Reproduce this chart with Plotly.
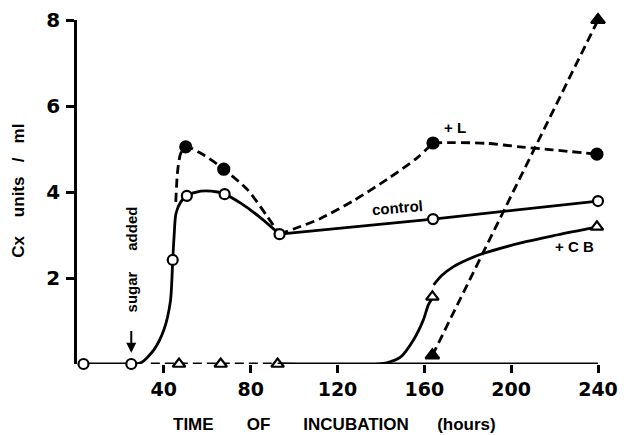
import plotly.graph_objects as go

# ---------------- data (hours, Cx units/ml) ----------------
control_x = [3, 25, 44.1, 50.6, 68, 93.3, 164, 240]
control_y = [0, 0, 2.42, 3.91, 3.95, 3.02, 3.37, 3.79]

lact_x = [50.1, 67.6, 164, 239.5]          # + L (filled circles)
lact_y = [5.05, 4.53, 5.14, 4.88]

cb_x = [47, 66.2, 92.4, 163.7, 239.5]      # + CB (open triangles)
cb_y = [0, 0, 0, 1.56, 3.19]

dx_x = [163.7, 240]                        # + Dx (filled triangles)
dx_y = [0.2, 8.0]

# hand-drawn curves
ctrl_flat_x = [3, 25]
ctrl_flat_y = [0, 0]
ctrl_rise_x = [25, 29.4, 35.4, 40, 43.0, 44.1, 44.7, 45.6, 47.8, 50.6, 57, 64.8, 68, 75.4, 84.6, 93.3]
ctrl_rise_y = [0, 0.03, 0.33, 0.79, 1.45, 2.42, 2.95, 3.5, 3.77, 3.91, 4.02, 4.0, 3.95, 3.74, 3.4, 3.02]
ctrl_late_x = [93.3, 164, 240]
ctrl_late_y = [3.02, 3.37, 3.79]

lact_c1_x = [45.5, 46.4, 47.8, 50.1, 58.4, 67.6, 78.6, 87.8, 93.3]
lact_c1_y = [3.77, 4.51, 4.9, 5.05, 4.86, 4.53, 4.05, 3.42, 3.02]
lact_c2_x = [93.3, 99.8, 112, 127.4, 143, 156.8, 164]
lact_c2_y = [3.02, 3.14, 3.38, 3.8, 4.3, 4.8, 5.14]
lact_c3_x = [164, 173.3, 189, 204, 219, 239.5]
lact_c3_y = [5.14, 5.15, 5.13, 5.05, 4.98, 4.88]

cb_dash_x = [34, 92.4]
cb_dash_y = [0, 0]
cb_c1_x = [92.4, 139.8, 149, 155, 159.5, 161.8, 163.3]
cb_c1_y = [0, 0, 0.16, 0.56, 1.02, 1.37, 1.5]
cb_c2_x = [164.3, 168, 173.3, 180, 187, 204, 221, 235, 239.5]
cb_c2_y = [1.84, 2.06, 2.26, 2.43, 2.57, 2.81, 3.0, 3.14, 3.19]

x_ticks = [40, 80, 120, 160, 200, 240]
x_tick_text = ["40", "80", "120", "160", "200", "240"]
y_ticks = [2, 4, 6, 8]
y_tick_text = ["2", "4", "6", "8"]

AXIS_LINE_START = 92.4
X_MAX = 240
Y_MAX = 8

# ---------------- figure ----------------
LW = 2.8
DASH = "9px,5px"
BLACK = "black"
fig = go.Figure()


def curve(x, y, dash="solid", shape="spline", smoothing=0.8):
    fig.add_trace(go.Scatter(x=x, y=y, mode="lines",
                             line=dict(color=BLACK, width=LW, dash=dash, shape=shape, smoothing=smoothing),
                             hoverinfo="skip", showlegend=False, cliponaxis=False))


curve(ctrl_flat_x, ctrl_flat_y, shape="linear")
curve(ctrl_rise_x, ctrl_rise_y)
curve(ctrl_late_x, ctrl_late_y, shape="linear")
curve(lact_c1_x, lact_c1_y, dash=DASH)
curve(lact_c2_x, lact_c2_y, dash=DASH)
curve(lact_c3_x, lact_c3_y, dash=DASH)
curve(cb_dash_x, cb_dash_y, dash=DASH, shape="linear")
curve(cb_c1_x, cb_c1_y)
curve(cb_c2_x, cb_c2_y, smoothing=1.0)
curve(dx_x, dx_y, dash=DASH, shape="linear")


def marks(x, y, symbol, size, fill):
    fig.add_trace(go.Scatter(x=x, y=y, mode="markers",
                             marker=dict(symbol=symbol, size=size, color=fill, line=dict(color=BLACK, width=2.2)),
                             showlegend=False, cliponaxis=False))


marks(control_x, control_y, "circle", 10, "white")
marks(lact_x, lact_y, "circle", 11, BLACK)
marks(cb_x, cb_y, "triangle-up", 11, "white")
marks(dx_x, dx_y, "triangle-up", 12, BLACK)

# x-axis baseline (visible only to the right of the CB zero segment, as in the original)
fig.add_shape(type="line", xref="x", yref="y", x0=AXIS_LINE_START, x1=X_MAX, y0=0, y1=0,
              line=dict(color=BLACK, width=LW))

FONT = "Liberation Sans"
S = "\u00a0"
ann = []
ann.append(dict(text="TIME" + S * 7 + "OF" + S * 7 + "INCUBATION" + S * 6 + "(hours)",
                xref="paper", yref="paper", x=0.495, y=-0.177, xanchor="center", yanchor="middle",
                showarrow=False, font=dict(family=FONT, size=17, color=BLACK, weight="bold")))
ann.append(dict(text="Cx" + S * 4 + "units" + S * 3 + "/" + S * 3 + "ml", textangle=-90,
                xref="paper", yref="paper", x=-0.113, y=0.504, xanchor="center", yanchor="middle",
                showarrow=False, font=dict(family=FONT, size=17, color=BLACK, weight="bold")))
ann.append(dict(text="sugar" + S * 5 + "added", textangle=-90, xref="x", yref="y", x=25.3, y=2.43,
                xanchor="center", yanchor="middle",
                showarrow=False, font=dict(family=FONT, size=15, color=BLACK, weight="bold")))
ann.append(dict(text="", xref="x", yref="y", axref="x", ayref="y", x=25, y=0.26, ax=25, ay=0.8,
                showarrow=True, arrowhead=2, arrowsize=1, arrowwidth=2, arrowcolor=BLACK))
ann.append(dict(text="+ L", xref="x", yref="y", x=174.3, y=5.49, showarrow=False,
                font=dict(family=FONT, size=15, color=BLACK, weight="bold")))
ann.append(dict(text="control", textangle=-5, xref="x", yref="y", x=147.6, y=3.63, showarrow=False,
                font=dict(family=FONT, size=15, color=BLACK, weight="bold")))
ann.append(dict(text="+ C B", xref="x", yref="y", x=229.4, y=2.74, showarrow=False,
                font=dict(family=FONT, size=15, color=BLACK, weight="bold")))
ann.append(dict(text="+ Dx", xref="x", yref="y", x=247, y=6.9, showarrow=False,
                font=dict(family=FONT, size=15, color=BLACK, weight="bold")))

# the page body adds an 8 px offset, so the figure is 8 px smaller and margins compensate
fig.update_layout(
    width=629, height=427,
    margin=dict(l=69, r=39, t=12, b=71),
    paper_bgcolor="white", plot_bgcolor="white",
    showlegend=False,
    annotations=ann,
    xaxis=dict(range=[0, X_MAX], showline=False, showgrid=False, zeroline=False, automargin=False,
               ticks="outside", ticklen=8, tickwidth=LW, tickcolor=BLACK,
               tickvals=x_ticks, ticktext=x_tick_text,
               tickfont=dict(family="DejaVu Sans", size=19, color=BLACK, weight="bold")),
    yaxis=dict(range=[0, Y_MAX], showline=True, linewidth=LW, linecolor=BLACK,
               showgrid=False, zeroline=False, automargin=False,
               ticks="outside", ticklen=8, tickwidth=LW, tickcolor=BLACK,
               tickvals=y_ticks, ticktext=y_tick_text, ticklabelstandoff=2,
               tickfont=dict(family="DejaVu Sans", size=20, color=BLACK, weight="bold")),
)

fig.write_html("out.html")
